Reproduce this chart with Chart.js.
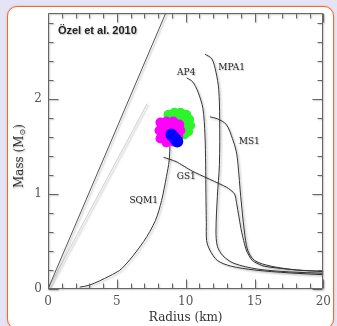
<!DOCTYPE html>
<html><head><meta charset="utf-8">
<script src="https://cdn.jsdelivr.net/npm/chart.js@4.4.1/dist/chart.umd.min.js"></script>
<style>
html,body{margin:0;padding:0;background:#e4e4f6;width:337px;height:326px;overflow:hidden;}
#box{position:absolute;left:7px;top:6px;width:327px;height:323px;background:#fff;border:1.5px solid #f26a2a;border-radius:10px;box-sizing:border-box;box-shadow:0 0 2px rgba(240,110,50,0.5);}
canvas{position:absolute;left:0;top:0;}
</style></head><body>
<div id="box"></div>
<canvas id="c" width="337" height="326"></canvas>
<script>
// ---- data (Radius km, Mass Msun) ----
const xTicks = [0, 5, 10, 15, 20];
const yTicks = [0, 1, 2];

const ap4R  = [10.08, 10.5, 10.9, 11.25, 11.4, 11.45, 11.47, 11.5, 11.52, 11.75, 12.3, 13.3, 15.0, 17.5, 20.0];
const ap4M  = [2.22, 2.18, 2.07, 1.9, 1.62, 1.31, 1.0, 0.7, 0.51, 0.41, 0.3, 0.24, 0.2, 0.17, 0.15];

const mpa1R = [11.4, 11.9, 12.2, 12.4, 12.47, 12.45, 12.3, 12.2, 12.3, 12.7, 13.5, 15.2, 17.5, 20.0];
const mpa1M = [2.47, 2.42, 2.28, 2.1, 1.79, 1.31, 0.97, 0.61, 0.45, 0.35, 0.27, 0.21, 0.18, 0.165];

const ms1R  = [11.76, 12.3, 12.95, 13.4, 13.67, 13.8, 14.0, 14.26, 14.5, 15.0, 16.2, 18.06, 20.0];
const ms1M  = [1.81, 1.79, 1.73, 1.58, 1.45, 1.31, 0.97, 0.61, 0.41, 0.30, 0.24, 0.2, 0.185];

const gs1R  = [8.39, 9.3, 10.47, 12.97, 13.55, 13.7, 14.05, 14.4, 14.84, 15.7, 18.06, 20.0];
const gs1M  = [1.385, 1.34, 1.24, 1.07, 1.0, 0.9, 0.61, 0.41, 0.30, 0.24, 0.2, 0.185];

const sqm1R = [2.3, 3.0, 4.44, 5.4, 6.95, 7.8, 8.25, 8.6, 8.8, 8.87];
const sqm1M = [0.02, 0.04, 0.135, 0.22, 0.5, 0.72, 0.93, 1.18, 1.35, 1.55];

const grLimitR = [0, 8.55];
const grLimitM = [0, 2.9];
const causalR  = [0, 7.2];
const causalM  = [0, 1.95];

const greenR = [8.75, 9.18, 9.61, 10.04, 10.25, 10.32, 10.18, 9.89, 9.68, 9.32, 8.89, 9.75, 9.32, 9.96];
const greenM = [1.833, 1.854, 1.854, 1.833, 1.781, 1.719, 1.656, 1.625, 1.688, 1.760, 1.771, 1.781, 1.688, 1.729];
const magentaR = [8.17, 8.60, 9.10, 9.53, 9.61, 9.46, 9.10, 8.60, 8.17, 8.10, 8.53, 8.96, 8.89, 8.46];
const magentaM = [1.75, 1.76, 1.76, 1.729, 1.667, 1.604, 1.552, 1.542, 1.583, 1.667, 1.688, 1.688, 1.615, 1.615];
const blueR = [8.96, 9.07, 9.18, 9.28, 9.39];
const blueM = [1.625, 1.607, 1.589, 1.571, 1.552];

const curveLabelText = ['AP4', 'MPA1', 'MS1', 'GS1', 'SQM1'];
const curveLabelR = [10.04, 13.33, 14.62, 10.04, 6.95];
const curveLabelM = [2.28, 2.33, 1.55, 1.18, 0.93];

const citeText = 'Özel et al. 2010';
const citeR = 0.72, citeM = 2.71;

// ---- helpers ----
function pts(R, M) { return R.map((r, i) => ({x: r, y: M[i]})); }
function curve(R, M, color, width, tension) {
  return {data: pts(R, M), showLine: true, borderColor: color, borderWidth: width,
          pointRadius: 0, tension: tension, fill: false};
}
function blob(R, M, color, radius) {
  return {data: pts(R, M), showLine: false, pointRadius: radius, pointHoverRadius: radius,
          backgroundColor: color, borderWidth: 0, pointBorderWidth: 0, isBlob: true};
}

const shadowPlugin = {
  id: 'shadowPlugin',
  beforeDatasetsDraw(chart) {
    const c = chart.ctx;
    // soft shadow under the blob clouds, drawn once beneath all blob points
    const a = chart.chartArea;
    c.save();
    c.beginPath(); c.rect(a.left, a.top, a.right - a.left, a.bottom - a.top); c.clip();
    c.shadowColor = 'rgba(0,0,0,0.45)'; c.shadowBlur = 3;
    c.shadowOffsetX = 2; c.shadowOffsetY = 2;
    c.fillStyle = 'rgba(120,120,120,0.01)';
    chart.data.datasets.forEach((ds, i) => {
      if (!ds.isBlob) return;
      const meta = chart.getDatasetMeta(i);
      meta.data.forEach(el => {
        c.beginPath(); c.arc(el.x, el.y, ds.pointRadius, 0, Math.PI * 2); c.fill();
      });
    });
    c.restore();
  },
  beforeDatasetDraw(chart, args) {
    const c = chart.ctx; c.save();
    const ds = chart.data.datasets[args.index];
    if (!ds.isBlob) {
      c.shadowColor = 'rgba(0,0,0,0.28)'; c.shadowBlur = 2;
      c.shadowOffsetX = 1.5; c.shadowOffsetY = 1.5;
    }
  },
  afterDatasetDraw(chart) { chart.ctx.restore(); }
};

const framePlugin = {
  id: 'framePlugin',
  afterDraw(chart) {
    const {ctx, chartArea: a, scales: {x, y}} = chart;
    ctx.save();
    ctx.shadowColor = 'rgba(0,0,0,0.25)'; ctx.shadowBlur = 1.5;
    ctx.shadowOffsetX = 1; ctx.shadowOffsetY = 1;
    ctx.strokeStyle = '#666'; ctx.lineWidth = 1;
    const L = Math.round(a.left) + 0.5, R = Math.round(a.right) - 0.5;
    const T = Math.round(a.top) + 0.5, B = Math.round(a.bottom) - 0.5;
    ctx.beginPath();
    ctx.rect(L, T, R - L, B - T);
    for (let v = 0; v <= 20; v++) {
      const px = Math.round(x.getPixelForValue(v)) + 0.5;
      const len = v % 5 === 0 ? 9 : 5;
      ctx.moveTo(px, B); ctx.lineTo(px, B - len);
      ctx.moveTo(px, T); ctx.lineTo(px, T + len);
    }
    for (let k = 0; k <= 14; k++) {
      const py = Math.round(y.getPixelForValue(k * 0.2)) + 0.5;
      const len = k % 5 === 0 ? 10 : 5;
      ctx.moveTo(L, py); ctx.lineTo(L + len, py);
      ctx.moveTo(R, py); ctx.lineTo(R - len, py);
    }
    ctx.stroke();
    ctx.restore();

    // curve labels
    ctx.save();
    ctx.shadowColor = 'rgba(0,0,0,0.25)'; ctx.shadowBlur = 1.5;
    ctx.shadowOffsetX = 1; ctx.shadowOffsetY = 1;
    ctx.fillStyle = '#222';
    ctx.font = '9px "DejaVu Serif"';
    ctx.textAlign = 'center'; ctx.textBaseline = 'middle';
    curveLabelText.forEach((t, i) => {
      ctx.fillText(t, x.getPixelForValue(curveLabelR[i]), y.getPixelForValue(curveLabelM[i]));
    });
    ctx.font = 'bold 11px "Liberation Sans"';
    ctx.textAlign = 'left';
    ctx.fillText(citeText, x.getPixelForValue(citeR), y.getPixelForValue(citeM));

    // y-axis title with subscript
    ctx.translate(20, (a.top + a.bottom) / 2 + 5);
    ctx.rotate(-Math.PI / 2);
    ctx.fillStyle = '#333';
    const f1 = '12px "DejaVu Serif"', f2 = '8px "DejaVu Serif"';
    ctx.font = f1; const w1 = ctx.measureText('Mass (M').width; const w3 = ctx.measureText(')').width;
    ctx.font = f2; const w2 = ctx.measureText('⊙').width;
    let sx = -(w1 + w2 + w3) / 2;
    ctx.textAlign = 'left'; ctx.textBaseline = 'middle';
    ctx.font = f1; ctx.fillText('Mass (M', sx, 0); sx += w1;
    ctx.font = f2; ctx.fillText('⊙', sx, 3); sx += w2;
    ctx.font = f1; ctx.fillText(')', sx, 0);
    ctx.restore();
  }
};

const tickFont = {family: 'DejaVu Serif', size: 12};

// Chart.js draws dataset 0 on top, so blobs come first and the faint line last
new Chart(document.getElementById('c'), {
  type: 'scatter',
  data: {
    datasets: [
      blob(blueR, blueM, '#0000ff', 6),
      blob(magentaR, magentaM, '#ff00ff', 5),
      blob(greenR, greenM, '#2cf52c', 5),
      curve(ms1R, ms1M, '#333', 1, 0.3),
      curve(mpa1R, mpa1M, '#333', 1, 0.3),
      curve(ap4R, ap4M, '#333', 1, 0.3),
      curve(gs1R, gs1M, '#333', 1, 0.2),
      curve(sqm1R, sqm1M, '#333', 1, 0.3),
      curve(grLimitR, grLimitM, '#555', 1, 0),
      curve(causalR, causalM, '#cfcfcf', 1, 0)
    ]
  },
  options: {
    responsive: false, animation: false, devicePixelRatio: 1,
    layout: {padding: {top: 10, right: 10, left: 0, bottom: 0}},
    plugins: {legend: {display: false}, tooltip: {enabled: false}},
    scales: {
      x: {
        type: 'linear', min: 0, max: 20,
        afterBuildTicks: s => { s.ticks = xTicks.map(v => ({value: v})); },
        afterFit: s => { s.height = 37; },
        grid: {display: false, drawTicks: false}, border: {display: false},
        ticks: {padding: 6, font: tickFont, color: '#555', maxRotation: 0, autoSkip: false},
        title: {display: true, text: 'Radius (km)', color: '#333',
                font: {family: 'DejaVu Serif', size: 12}, padding: {top: 0, bottom: 1}}
      },
      y: {
        type: 'linear', min: 0, max: 2.9,
        afterBuildTicks: s => { s.ticks = yTicks.map(v => ({value: v})); },
        afterFit: s => { s.width = 48; },
        grid: {display: false, drawTicks: false}, border: {display: false},
        ticks: {padding: 6, font: tickFont, color: '#555', autoSkip: false}
      }
    }
  },
  plugins: [shadowPlugin, framePlugin]
});
</script></body></html>
